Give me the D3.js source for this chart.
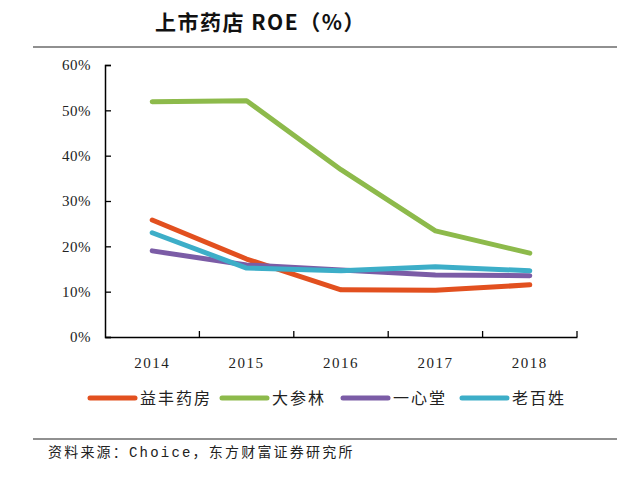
<!DOCTYPE html>
<html><head><meta charset="utf-8">
<script src="https://cdn.jsdelivr.net/npm/d3@7/dist/d3.min.js"></script>
<style>body{margin:0;background:#fff}</style>
</head><body>
<svg id="c" width="640" height="486"></svg>
<script>
const years = ["2014","2015","2016","2017","2018"];
const seriesNames = ["益丰药房","大参林","一心堂","老百姓"];
const yifeng = [25.8, 17.2, 10.4, 10.3, 11.5];
const dashenlin = [51.9, 52.1, 36.9, 23.4, 18.5];
const yixintang = [19.0, 15.9, 14.8, 13.7, 13.5];
const laobaixing = [23.0, 15.2, 14.6, 15.5, 14.6];
const yTicks = [0,10,20,30,40,50,60];
const colors = ["#E2501F","#8DBA4B","#7B5CA6","#3DAEC8"];
const data = [yifeng, dashenlin, yixintang, laobaixing];

const svg = d3.select("#c");
const serif = "'Liberation Serif','Times New Roman',serif";
const cjk = "'Noto Sans CJK SC',sans-serif";

svg.append("text").attr("x",155).attr("y",30).attr("font-family",cjk).attr("font-weight","bold")
  .attr("font-size",21).attr("letter-spacing","1.5px").attr("fill","#111").text("上市药店 ROE（%）");
svg.append("line").attr("x1",33).attr("x2",617).attr("y1",47).attr("y2",47).attr("stroke","#222").attr("stroke-width",1.2);
svg.append("line").attr("x1",33).attr("x2",617).attr("y1",439).attr("y2",439).attr("stroke","#222").attr("stroke-width",1.2);
const src = svg.append("text").attr("x",48).attr("y",457).attr("font-family",cjk).attr("font-size",14)
  .attr("letter-spacing","2.2px").attr("fill","#222");
src.append("tspan").text("资料来源：");
src.append("tspan").attr("font-family","'Liberation Mono',monospace").text("Choice");
src.append("tspan").text("，东方财富证券研究所");

const x = d3.scaleBand().domain(years).range([105,577]);
const y = d3.scaleLinear().domain([0,60]).range([337,65]);

const ya = svg.append("g").attr("transform","translate(105,0)").attr("font-family",serif)
  .call(d3.axisLeft(y).tickValues(yTicks).tickSize(-6).tickPadding(14).tickFormat(d=>d+"%"));
ya.attr("font-family",serif);
ya.select(".domain").attr("stroke","#000").attr("stroke-width",1.5);
ya.selectAll(".tick line").attr("stroke","#000").attr("stroke-width",1.3);
ya.selectAll(".tick text").attr("font-family",serif).attr("font-size",15).attr("letter-spacing","0.5px").attr("fill","#222");

const xa = svg.append("g").attr("transform","translate(0,337)")
  .call(d3.axisBottom(x).tickSize(0).tickPadding(20));
xa.attr("font-family",serif);
xa.select(".domain").attr("stroke","#000").attr("stroke-width",1.5);
xa.selectAll(".tick text").attr("font-family",serif).attr("font-size",15).attr("fill","#222").attr("letter-spacing","1.5px");
const bounds = years.map(d=>x(d)).concat([x.range()[1]]).slice(1);
xa.selectAll(".bt").data(bounds).enter().append("line").attr("class","bt")
  .attr("x1",d=>d).attr("x2",d=>d).attr("y1",0).attr("y2",-6).attr("stroke","#000").attr("stroke-width",1.3);

const line = d3.line().x((d,i)=>x(years[i])+x.bandwidth()/2).y(d=>y(d));
data.forEach((s,i)=>{
  svg.append("path").datum(s).attr("d",line).attr("fill","none").attr("stroke",colors[i])
    .attr("stroke-width",5).attr("stroke-linecap","round").attr("stroke-linejoin","round");
});

const legX = [90,222,343,462];
seriesNames.forEach((n,i)=>{
  svg.append("line").attr("x1",legX[i]).attr("x2",legX[i]+45).attr("y1",398).attr("y2",398)
    .attr("stroke",colors[i]).attr("stroke-width",5).attr("stroke-linecap","round");
  svg.append("text").attr("x",legX[i]+50).attr("y",404).attr("font-family",cjk).attr("font-size",16)
    .attr("letter-spacing","2px").attr("fill","#222").text(n);
});
</script>
</body></html>
